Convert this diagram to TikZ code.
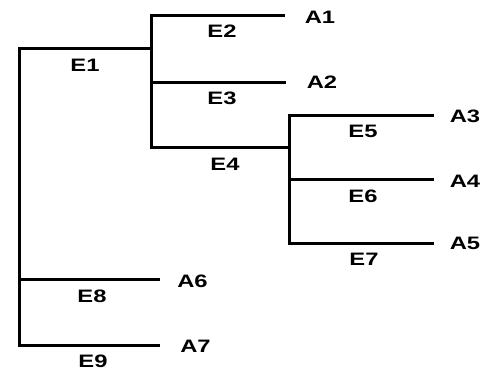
\documentclass[tikz,border=0pt]{standalone}
\usepackage{fontspec}
\setmainfont{Liberation Sans}
\newcommand{\widelabel}[1]{\scalebox{1.32}[1]{#1}}
\begin{document}
\begin{tikzpicture}[x=1pt,y=-1pt,
  branch/.style={line width=3pt,line cap=rect,line join=miter},
  lbl/.style={font=\fontsize{18}{18}\selectfont\bfseries,inner sep=0pt,anchor=center}]
\useasboundingbox (0,0) rectangle (483,371);
% junctions
\coordinate (root) at (19,49);
\coordinate (j1) at (151,49);
\coordinate (j4) at (289,148);
\coordinate (rb) at (19,280);
% branch ends
\coordinate (e2) at (283,16);
\coordinate (e3) at (284,83);
\coordinate (e5) at (432,116);
\coordinate (e6) at (432,180);
\coordinate (e7) at (432,244);
\coordinate (e8) at (158,280);
\coordinate (e9) at (158,346);
% leaf labels
\node[lbl] (A1) at (320,17) {\widelabel{A1}};
\node[lbl] (A2) at (322,82) {\widelabel{A2}};
\node[lbl] (A3) at (465,116.5) {\widelabel{A3}};
\node[lbl] (A4) at (465,181.5) {\widelabel{A4}};
\node[lbl] (A5) at (465,243.5) {\widelabel{A5}};
\node[lbl] (A6) at (192.5,281.5) {\widelabel{A6}};
\node[lbl] (A7) at (195.5,346.5) {\widelabel{A7}};
% branches
\draw[branch] (root) -- (j1);
\draw[branch] (root) |- (e9);
\draw[branch] (rb) -- (e8);
\draw[branch] (j1) |- (e2);
\draw[branch] (j1) |- (e3);
\draw[branch] (j1) |- (j4);
\draw[branch] (j4) |- (e5);
\draw[branch] (j4) |- (e7);
\draw[branch] (j4) -- (e6 -| j4) -- (e6);
% edge labels
\node[lbl] (E1) at (85,65.5) {\widelabel{E1}};
\node[lbl] (E2) at (222,31) {\widelabel{E2}};
\node[lbl] (E3) at (222,98) {\widelabel{E3}};
\node[lbl] (E4) at (225,164) {\widelabel{E4}};
\node[lbl] (E5) at (363,131) {\widelabel{E5}};
\node[lbl] (E6) at (363,196) {\widelabel{E6}};
\node[lbl] (E7) at (364,259) {\widelabel{E7}};
\node[lbl] (E8) at (92,296) {\widelabel{E8}};
\node[lbl] (E9) at (93,361) {\widelabel{E9}};
\end{tikzpicture}
\end{document}
